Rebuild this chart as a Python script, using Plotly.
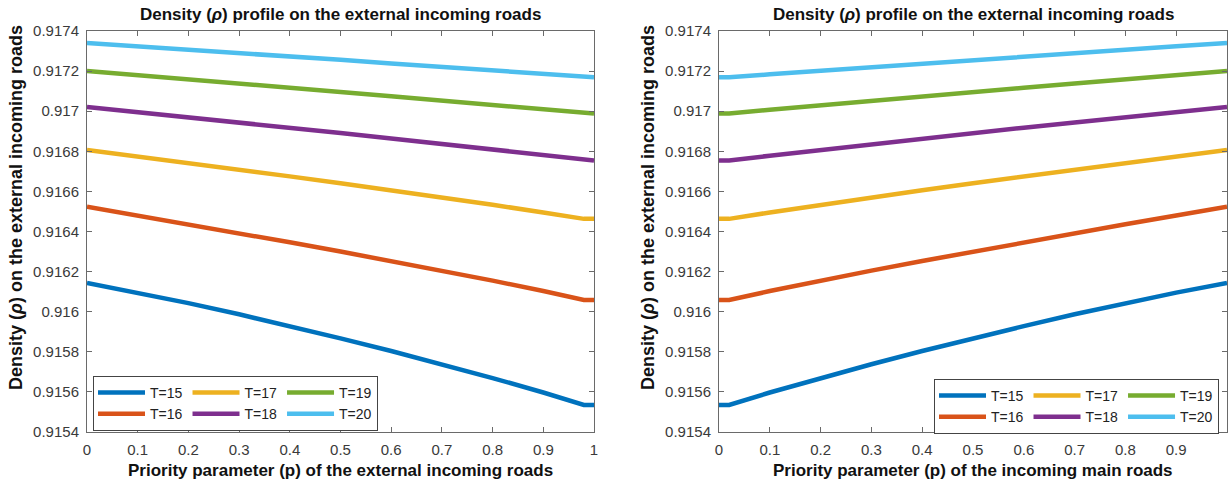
import plotly.graph_objects as go

# ---------------- data ----------------
series_names = ["T=15", "T=16", "T=17", "T=18", "T=19", "T=20"]
colors = ["#0072BD", "#D95319", "#EDB120", "#7E2F8E", "#77AC30", "#4DBEEE"]
groups = ["g1", "g1", "g2", "g2", "g3", "g3"]

# left panel: priority parameter of the external incoming roads
p_left = [0.0, 0.1, 0.2, 0.3, 0.4, 0.5, 0.6, 0.7, 0.8, 0.9, 0.98, 1.0]
rho_left_T15 = [0.916143, 0.916095, 0.916043, 0.915987, 0.915928, 0.915867, 0.915804, 0.915738, 0.915669, 0.915597, 0.915535, 0.915535]
rho_left_T16 = [0.916523, 0.916480, 0.916436, 0.916391, 0.916346, 0.916300, 0.916253, 0.916205, 0.916155, 0.916103, 0.916058, 0.916058]
rho_left_T17 = [0.916807, 0.916775, 0.916742, 0.916709, 0.916675, 0.916641, 0.916606, 0.916570, 0.916533, 0.916495, 0.916463, 0.916463]
rho_left_T18 = [0.917021, 0.916996, 0.916970, 0.916944, 0.916918, 0.916891, 0.916864, 0.916836, 0.916807, 0.916778, 0.916754, 0.916754]
rho_left_T19 = [0.917200, 0.917180, 0.917159, 0.917138, 0.917117, 0.917096, 0.917074, 0.917052, 0.917030, 0.917007, 0.916988, 0.916988]
rho_left_T20 = [0.917340, 0.917324, 0.917307, 0.917290, 0.917273, 0.917256, 0.917238, 0.917220, 0.917202, 0.917184, 0.917169, 0.917169]

# right panel: priority parameter of the incoming main roads
p_right = [0.0, 0.02, 0.1, 0.2, 0.3, 0.4, 0.5, 0.6, 0.7, 0.8, 0.9, 1.0]
rho_right_T15 = [0.915535, 0.915535, 0.915597, 0.915669, 0.915738, 0.915804, 0.915867, 0.915928, 0.915987, 0.916043, 0.916095, 0.916143]
rho_right_T16 = [0.916058, 0.916058, 0.916103, 0.916155, 0.916205, 0.916253, 0.916300, 0.916346, 0.916391, 0.916436, 0.916480, 0.916523]
rho_right_T17 = [0.916463, 0.916463, 0.916495, 0.916533, 0.916570, 0.916606, 0.916641, 0.916675, 0.916709, 0.916742, 0.916775, 0.916807]
rho_right_T18 = [0.916754, 0.916754, 0.916778, 0.916807, 0.916836, 0.916864, 0.916891, 0.916918, 0.916944, 0.916970, 0.916996, 0.917021]
rho_right_T19 = [0.916988, 0.916988, 0.917007, 0.917030, 0.917052, 0.917074, 0.917096, 0.917117, 0.917138, 0.917159, 0.917180, 0.917200]
rho_right_T20 = [0.917169, 0.917169, 0.917184, 0.917202, 0.917220, 0.917238, 0.917256, 0.917273, 0.917290, 0.917307, 0.917324, 0.917340]

x_tickvals = [0, 0.1, 0.2, 0.3, 0.4, 0.5, 0.6, 0.7, 0.8, 0.9, 1.0]
x_ticktext = ["0", "0.1", "0.2", "0.3", "0.4", "0.5", "0.6", "0.7", "0.8", "0.9", "1"]
y_tickvals = [0.9154, 0.9156, 0.9158, 0.916, 0.9162, 0.9164, 0.9166, 0.9168, 0.917, 0.9172, 0.9174]
y_ticktext = ["0.9154", "0.9156", "0.9158", "0.916", "0.9162", "0.9164", "0.9166", "0.9168", "0.917", "0.9172", "0.9174"]

title_text = "Density (<i>ρ</i>) profile on the external incoming roads"
ylabel_text = "Density (<i>ρ</i>) on the external incoming roads"
xlabel_left = "Priority parameter (p) of the external incoming roads"
xlabel_right = "Priority parameter (p) of the incoming main roads"

left_series = [rho_left_T15, rho_left_T16, rho_left_T17, rho_left_T18, rho_left_T19, rho_left_T20]
right_series = [rho_right_T15, rho_right_T16, rho_right_T17, rho_right_T18, rho_right_T19, rho_right_T20]

# ---------------- figure ----------------
W, H = 1229, 488
FONT = "Liberation Sans, Arial, Helvetica, sans-serif"
AX_COL = "#6a6a6a"
TXT_COL = "#3a3a3a"

fig = go.Figure()
for name, col, grp, ys in zip(series_names, colors, groups, left_series):
    fig.add_trace(go.Scatter(x=p_left, y=ys, mode="lines", name=name,
                             line=dict(color=col, width=4.5),
                             legendgroup=grp, legend="legend",
                             xaxis="x", yaxis="y"))
for name, col, grp, ys in zip(series_names, colors, groups, right_series):
    fig.add_trace(go.Scatter(x=p_right, y=ys, mode="lines", name=name,
                             line=dict(color=col, width=4.5),
                             legendgroup=grp + "r", legend="legend2",
                             xaxis="x2", yaxis="y2"))


def px_x(v):
    return v / W


def px_y(v):
    return 1 - v / H


ydom = [px_y(432), px_y(31)]

xaxis_common = dict(range=[0, 1], tickmode="array", tickvals=x_tickvals, ticktext=x_ticktext,
                    ticks="inside", ticklen=5, tickcolor=AX_COL, showline=True, linecolor=AX_COL,
                    linewidth=1, mirror="ticks", showgrid=False, zeroline=False,
                    tickfont=dict(family=FONT, size=15, color=TXT_COL), ticklabelstandoff=4,
                    automargin=False)
yaxis_common = dict(range=[0.9154, 0.9174], tickmode="array", tickvals=y_tickvals, ticktext=y_ticktext,
                    ticks="inside", ticklen=5, tickcolor=AX_COL, showline=True, linecolor=AX_COL,
                    linewidth=1, mirror="ticks", showgrid=False, zeroline=False,
                    tickfont=dict(family=FONT, size=15, color=TXT_COL), ticklabelstandoff=4,
                    automargin=False, domain=ydom)

legend_common = dict(orientation="h", traceorder="grouped", bgcolor="white",
                     bordercolor="#444444", borderwidth=1, itemwidth=47,
                     tracegroupgap=0, yanchor="top",
                     font=dict(family=FONT, size=14, color="#222222"))

fig.update_layout(
    width=W, height=H,
    margin=dict(l=0, r=0, t=0, b=0),
    paper_bgcolor="white", plot_bgcolor="white",
    xaxis=dict(xaxis_common, domain=[px_x(87), px_x(594)], anchor="y"),
    yaxis=dict(yaxis_common, anchor="x"),
    xaxis2=dict(xaxis_common, domain=[px_x(719), px_x(1227)], anchor="y2"),
    yaxis2=dict(yaxis_common, anchor="x2"),
    legend=dict(legend_common, x=px_x(93), xanchor="left", y=px_y(376)),
    legend2=dict(legend_common, x=px_x(1219), xanchor="right", y=px_y(379)),
    showlegend=True,
)

title_font = dict(family=FONT, size=17, color="#111111")
ylab_font = dict(family=FONT, size=18, color="#111111")
ann = []
for cx, xl in [((87 + 594) / 2, xlabel_left), ((719 + 1227) / 2, xlabel_right)]:
    ann.append(dict(text="<b>" + title_text + "</b>", x=px_x(cx), y=px_y(15), xref="paper", yref="paper",
                    showarrow=False, xanchor="center", yanchor="middle", font=title_font))
    ann.append(dict(text="<b>" + xl + "</b>", x=px_x(cx), y=px_y(470), xref="paper", yref="paper",
                    showarrow=False, xanchor="center", yanchor="middle", font=title_font))
for lx in [16, 648]:
    ann.append(dict(text="<b>" + ylabel_text + "</b>", x=px_x(lx), y=px_y(208), xref="paper", yref="paper",
                    showarrow=False, xanchor="center", yanchor="middle", textangle=-90, font=ylab_font))
fig.update_layout(annotations=ann)

# remove the browser's default page margin so the figure sits at the window's corner
fig.write_html("out.html",
               config={"displayModeBar": False},
               post_script="document.body.style.margin='0px';document.body.style.overflow='hidden';")
